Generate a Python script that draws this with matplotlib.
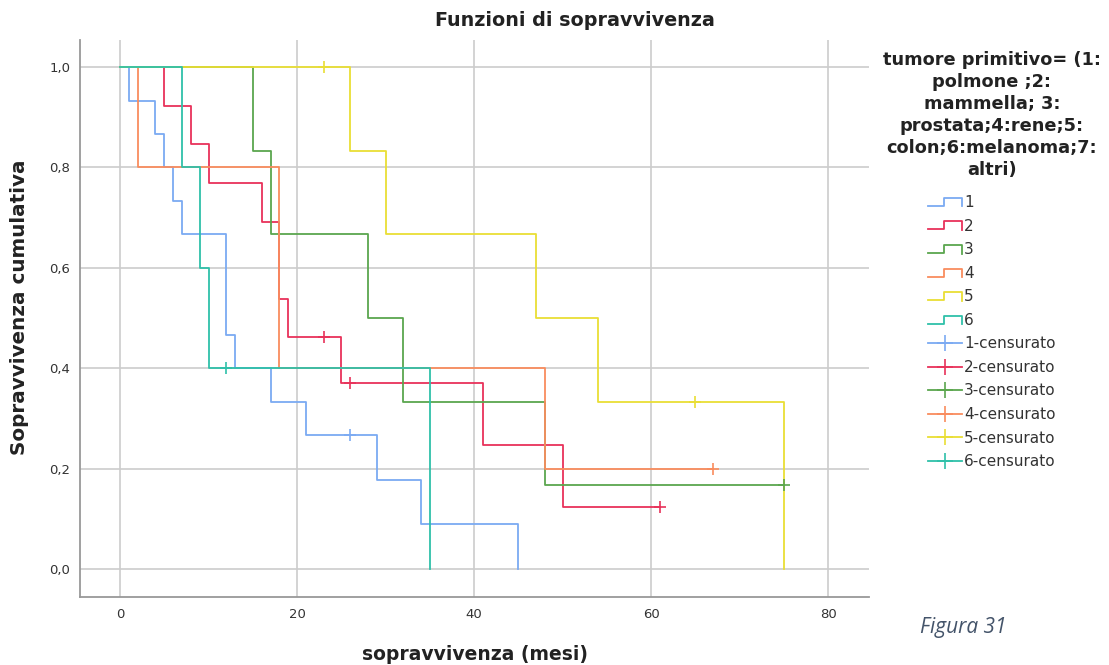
import matplotlib
matplotlib.use("Agg")
import matplotlib.pyplot as plt
import numpy as np
from matplotlib.lines import Line2D
from matplotlib.legend_handler import HandlerBase

plt.rcParams["font.family"] = ["DejaVu Sans"]

# step curves: times where the curve drops, survival after the drop
t1 = [0, 1, 4, 5, 6, 7, 12, 13, 17, 21, 29, 34, 45]
s1 = [1.0, 0.933, 0.867, 0.800, 0.733, 0.667, 0.467, 0.400, 0.333, 0.267, 0.178, 0.089, 0.0]
t2 = [0, 5, 8, 10, 16, 18, 19, 25, 41, 50]
s2 = [1.0, 0.923, 0.846, 0.769, 0.692, 0.538, 0.462, 0.370, 0.247, 0.123]
t3 = [0, 15, 17, 28, 32, 48]
s3 = [1.0, 0.833, 0.667, 0.500, 0.333, 0.167]
t4 = [0, 2, 18, 48]
s4 = [1.0, 0.800, 0.400, 0.200]
t5 = [0, 26, 30, 47, 54, 75]
s5 = [1.0, 0.833, 0.667, 0.500, 0.333, 0.0]
t6 = [0, 7, 9, 10, 35]
s6 = [1.0, 0.800, 0.600, 0.400, 0.0]
end_times = [45, 61, 75, 67, 75, 35]

# censored observations
c1_t, c1_s = [26], [0.267]
c2_t, c2_s = [23, 26, 61], [0.462, 0.370, 0.123]
c3_t, c3_s = [75], [0.167]
c4_t, c4_s = [67], [0.200]
c5_t, c5_s = [23, 65], [1.0, 0.333]
c6_t, c6_s = [12], [0.400]

groups = ["1", "2", "3", "4", "5", "6"]
colors = ["#7BAAF2", "#E8325A", "#5BA64E", "#F98C5E", "#E9DE35", "#2FC0A9"]

legend_title = ("tumore primitivo= (1:\npolmone ;2:\nmammella; 3:\n"
                "prostata;4:rene;5:\ncolon;6:melanoma;7:\naltri)")


class StepHandler(HandlerBase):
    def create_artists(self, legend, orig, xd, yd, w, h, fontsize, trans):
        xs = np.array([0, 0.47, 0.47, 1.0, 1.0]) * w - xd
        ys = np.array([0.1, 0.1, 0.85, 0.85, 0.05]) * h - yd
        ln = Line2D(xs, ys, color=orig.get_color(), lw=orig.get_linewidth())
        ln.set_transform(trans)
        return [ln]


fig = plt.figure(figsize=(11.09, 6.65), dpi=100)
ax = fig.add_axes([80 / 1109, 68 / 665, 789 / 1109, 557 / 665])

curves = [(t1, s1), (t2, s2), (t3, s3), (t4, s4), (t5, s5), (t6, s6)]
censors = [(c1_t, c1_s), (c2_t, c2_s), (c3_t, c3_s), (c4_t, c4_s), (c5_t, c5_s), (c6_t, c6_s)]

step_handles = []
cens_handles = []
for i, (t, s) in enumerate(curves):
    x = list(t) + [end_times[i]]
    y = list(s) + [s[-1]]
    h, = ax.step(x, y, where="post", color=colors[i], lw=1.3, zorder=3)
    step_handles.append(h)
for i, (ct, cs) in enumerate(censors):
    ax.plot(ct, cs, ls="none", marker="+", ms=8, mew=1.2, color=colors[i], zorder=4)
    cens_handles.append(Line2D([], [], color=colors[i], lw=1.3, marker="+", ms=12, mew=1.2))

ax.set_xlim(-4.52, 84.6)
ax.set_ylim(-0.056, 1.054)
ax.set_xticks([0, 20, 40, 60, 80])
ax.set_yticks([0.0, 0.2, 0.4, 0.6, 0.8, 1.0])
ax.set_yticklabels(["0,0", "0,2", "0,4", "0,6", "0,8", "1,0"])
ax.tick_params(length=0, labelsize=9.5, labelcolor="#333333")
ax.tick_params(axis="y", pad=7)
ax.tick_params(axis="x", pad=8)
ax.grid(True, color="#cccccc", lw=1.2)
ax.set_axisbelow(True)
for side in ["top", "right"]:
    ax.spines[side].set_visible(False)
for side in ["left", "bottom"]:
    ax.spines[side].set_color("#999999")
    ax.spines[side].set_linewidth(1.3)

fig.text(575 / 1109, 1 - 21 / 665, "Funzioni di sopravvivenza", ha="center", va="center",
         fontsize=13.8, fontweight="bold", color="#222222")
fig.text(475 / 1109, 1 - 654 / 665, "sopravvivenza (mesi)", ha="center", va="center",
         fontsize=13.5, fontweight="bold", color="#222222")
fig.text(20 / 1109, 1 - 307 / 665, "Sopravvivenza cumulativa", ha="center", va="center",
         rotation=90, fontsize=14.4, fontweight="bold", color="#222222")
fig.text(992 / 1109, 1 - 51 / 665, legend_title, ha="center", va="top", ma="center",
         fontsize=12.8, fontweight="bold", color="#222222", linespacing=1.28)

leg = fig.legend(step_handles + cens_handles,
                 groups + [g + "-censurato" for g in groups],
                 handler_map={h: StepHandler() for h in step_handles},
                 loc="upper left", bbox_to_anchor=(928 / 1109, 1 - 195 / 665),
                 frameon=False, fontsize=11, handlelength=2.2, handletextpad=0.15,
                 labelspacing=0.56, borderpad=0, borderaxespad=0)
for txt in leg.get_texts():
    txt.set_color("#333333")

fig.text(920 / 1109, 1 - 628 / 665, "Figura 31", ha="left", va="center", fontsize=15,
         style="italic", color="#44546A", family=["Open Sans", "DejaVu Sans"])

fig.savefig("out.png", dpi=100)
